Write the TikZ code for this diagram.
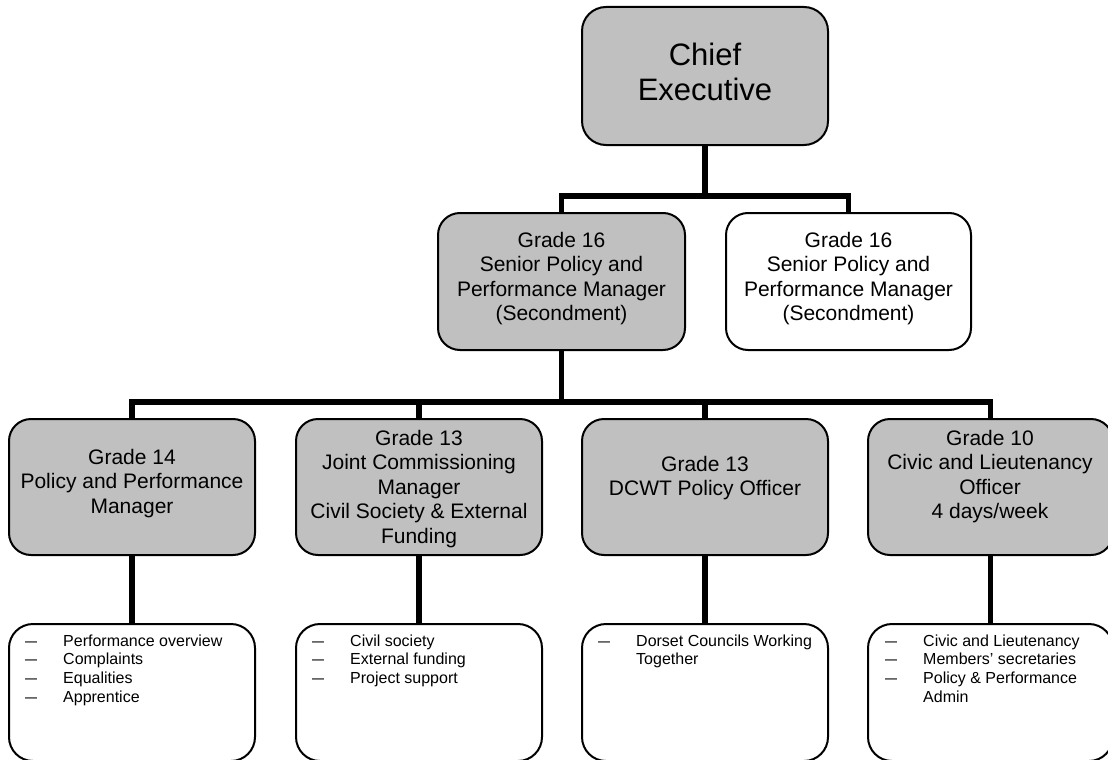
\documentclass[tikz,border=0pt]{standalone}
\usepackage{fontspec}
\usepackage{graphicx}
\setmainfont{Liberation Sans}
\definecolor{boxgray}{RGB}{192,192,192}
% bullet list used in the duty boxes: dash column, then the item text
\newcommand{\dutylist}[1]{\begin{tabular}{@{}p{38pt}@{}l@{}}#1\end{tabular}}
\newcommand{\bul}{\scalebox{1.35}[1]{\char"2013}}
\begin{document}
\begin{tikzpicture}[
  x=1pt, y=-1pt,
  post/.style={draw=black, line width=2pt, rounded corners=22pt, fill=boxgray,
    minimum width=246pt, minimum height=137pt, inner sep=0pt},
  vacant/.style={post, fill=white},
  dutybox/.style={post, fill=white, rounded corners=24pt},
  title/.style={anchor=north, align=center, inner sep=0pt,
    font=\fontsize{21}{24.5}\selectfont},
  duties/.style={anchor=north west, inner sep=0pt,
    font=\fontsize{16}{18.7}\selectfont},
  link/.style={draw=black, line width=5.5pt},
]
\useasboundingbox (0,0) rectangle (1108,760);

% ---- boxes ----
\node[post, rounded corners=24pt, minimum height=138pt] (ceo) at (705,76) {};
\node[post, minimum width=247pt] (sen) at (561.5,281.5) {};
\node[vacant, minimum width=245pt] (sec) at (848.5,281.5) {};

\node[post, minimum height=136pt] (g14) at (132,487) {};
\node[post, minimum height=136pt] (jcm) at (419,487) {};
\node[post, minimum height=136pt] (dcwt) at (705,487) {};
\node[post, minimum height=136pt, minimum width=245pt] (civ) at (990.5,487) {};

\node[dutybox] (d14) at (132,692.5) {};
\node[dutybox] (djcm) at (419,692.5) {};
\node[dutybox] (ddcwt) at (705,692.5) {};
\node[dutybox, minimum width=245pt] (dciv) at (990.5,692.5) {};

% ---- connectors ----
\coordinate (bus1) at (705,196);
\coordinate (bus2) at (561.5,402);
\draw[link] (ceo.south) -- (ceo.south |- bus1);
\draw[link] (sen.north) |- (bus1) -| (sec.north);
\draw[link] (sen.south) -- (bus2);
\draw[link] (g14.north) |- (bus2) -| (civ.north);
\draw[link] (jcm.north) -- (jcm.north |- bus2);
\draw[link] (dcwt.north) -- (dcwt.north |- bus2);
\draw[link] (g14.south) -- (d14.north);
\draw[link] (jcm.south) -- (djcm.north);
\draw[link] (dcwt.south) -- (ddcwt.north);
\draw[link] (civ.south) -- (dciv.north);

% ---- titles ----
\node[title, font=\fontsize{31}{35}\selectfont] (ceo-t) at (705,42.4) {Chief\\Executive};
\node[title] (sen-t) at (561.5,231.7) {Grade 16\\Senior Policy and\\Performance Manager\\(Secondment)};
\node[title] (sec-t) at (848.5,231.7) {Grade 16\\Senior Policy and\\Performance Manager\\(Secondment)};
\node[title] (g14-t) at (132,448.7) {Grade 14\\Policy and Performance\\Manager};
\begin{scope}
  \clip (jcm.north west) rectangle ([yshift=-1pt]jcm.south east);
  \node[title] (jcm-t) at (419,429.7) {Grade 13\\Joint Commissioning\\Manager\\Civil Society \& External\\Funding};
\end{scope}
\node[title] (dcwt-t) at (705,455.7) {Grade 13\\DCWT Policy Officer};
\node[title] (civ-t) at (990,429.7) {Grade 10\\Civic and Lieutenancy\\Officer\\4 days/week};

% ---- duty lists ----
\node[duties] (d14-t) at (25,632.9) {\dutylist{
  \bul & Performance overview\\
  \bul & Complaints\\
  \bul & Equalities\\
  \bul & Apprentice}};
\node[duties] (djcm-t) at (312,632.9) {\dutylist{
  \bul & Civil society\\
  \bul & External funding\\
  \bul & Project support}};
\node[duties] (ddcwt-t) at (598,632.9) {\dutylist{
  \bul & Dorset Councils Working\\
       & Together}};
\node[duties] (dciv-t) at (885,632.9) {\dutylist{
  \bul & Civic and Lieutenancy\\
  \bul & Members’ secretaries\\
  \bul & Policy \& Performance\\
       & Admin}};
\end{tikzpicture}
\end{document}
